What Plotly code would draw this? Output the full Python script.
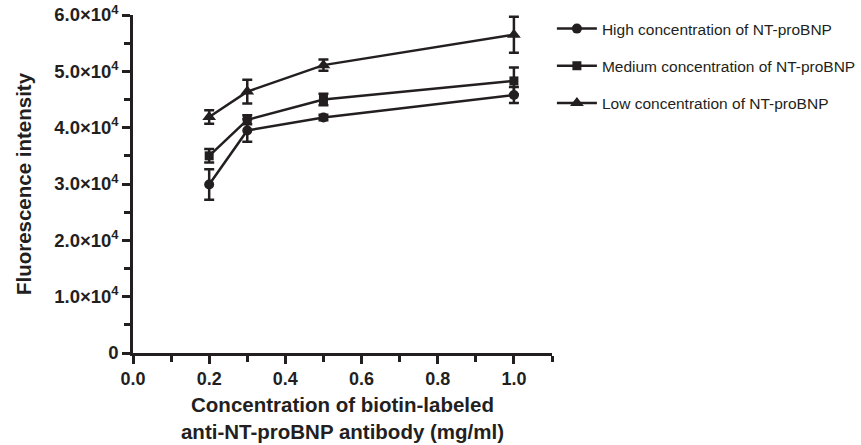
import plotly.graph_objects as go

x_conc = [0.2, 0.3, 0.5, 1.0]

high_mean = [29900, 39500, 41800, 45800]
high_err = [2700, 2000, 500, 1400]

medium_mean = [35000, 41400, 45000, 48300]
medium_err = [1200, 800, 1000, 2400]

low_mean = [41900, 46400, 51100, 56500]
low_err = [1200, 2100, 1000, 3200]

series_names = [
    "High concentration of NT-proBNP",
    "Medium concentration of NT-proBNP",
    "Low concentration of NT-proBNP",
]
series_symbols = ["circle", "square", "triangle-up"]
series_sizes = [10, 9, 12]

y_tickvals = [0, 10000, 20000, 30000, 40000, 50000, 60000]
y_ticktext = ["0", "1.0×10<sup>4</sup>", "2.0×10<sup>4</sup>", "3.0×10<sup>4</sup>",
              "4.0×10<sup>4</sup>", "5.0×10<sup>4</sup>", "6.0×10<sup>4</sup>"]
x_tickvals = [0.0, 0.2, 0.4, 0.6, 0.8, 1.0]
x_ticktext = ["0.0", "0.2", "0.4", "0.6", "0.8", "1.0"]

FONT = "Liberation Sans, Arial, sans-serif"
COL = "#231f20"

fig = go.Figure()
for i, (m, e) in enumerate([(high_mean, high_err), (medium_mean, medium_err), (low_mean, low_err)]):
    fig.add_trace(go.Scatter(
        x=x_conc, y=m, name=series_names[i], mode="lines+markers",
        legendgroup=str(i),
        line=dict(color=COL, width=2.5),
        marker=dict(symbol=series_symbols[i], size=series_sizes[i], color=COL),
        error_y=dict(type="data", array=e, visible=True, color=COL, thickness=2.5, width=5),
    ))

fig.update_layout(
    width=861, height=445,
    margin=dict(l=133, r=309, t=15, b=92, autoexpand=False),
    paper_bgcolor="white", plot_bgcolor="white",
    font=dict(family=FONT, color=COL),
    showlegend=True,
    legend=dict(xref="container", yref="container", x=0.641, xanchor="left", y=0.973, yanchor="top",
                font=dict(size=15.5, family=FONT, color=COL),
                tracegroupgap=14, itemwidth=40, bgcolor="rgba(0,0,0,0)"),
    xaxis=dict(range=[0, 1.1], tickvals=x_tickvals, ticktext=["<b>%s</b>" % t for t in x_ticktext],
               showline=True, linecolor=COL, linewidth=2.5, showgrid=False, zeroline=False,
               ticks="outside", ticklen=8, tickwidth=2.5, tickcolor=COL,
               minor=dict(tickvals=[0.1, 0.3, 0.5, 0.7, 0.9, 1.1], ticks="outside", ticklen=6, tickwidth=2.5, tickcolor=COL),
               tickfont=dict(size=18, family=FONT, color=COL),
               title=dict(text="<b>Concentration of biotin-labeled<br>anti-NT-proBNP antibody (mg/ml)</b>",
                          font=dict(size=20.5, family=FONT, color=COL), standoff=10)),
    yaxis=dict(range=[0, 60000], tickvals=y_tickvals, ticktext=["<b>%s</b>" % t for t in y_ticktext],
               showline=True, linecolor=COL, linewidth=2.5, showgrid=False, zeroline=False,
               ticks="outside", ticklen=8, tickwidth=2.5, tickcolor=COL,
               minor=dict(tickvals=[5000, 15000, 25000, 35000, 45000, 55000], ticks="outside", ticklen=6, tickwidth=2.5, tickcolor=COL),
               tickfont=dict(size=18.5, family=FONT, color=COL),
               title=dict(text="<b>Fluorescence intensity</b>",
                          font=dict(size=20.5, family=FONT, color=COL), standoff=18)),
)

fig.write_html("out.html")
